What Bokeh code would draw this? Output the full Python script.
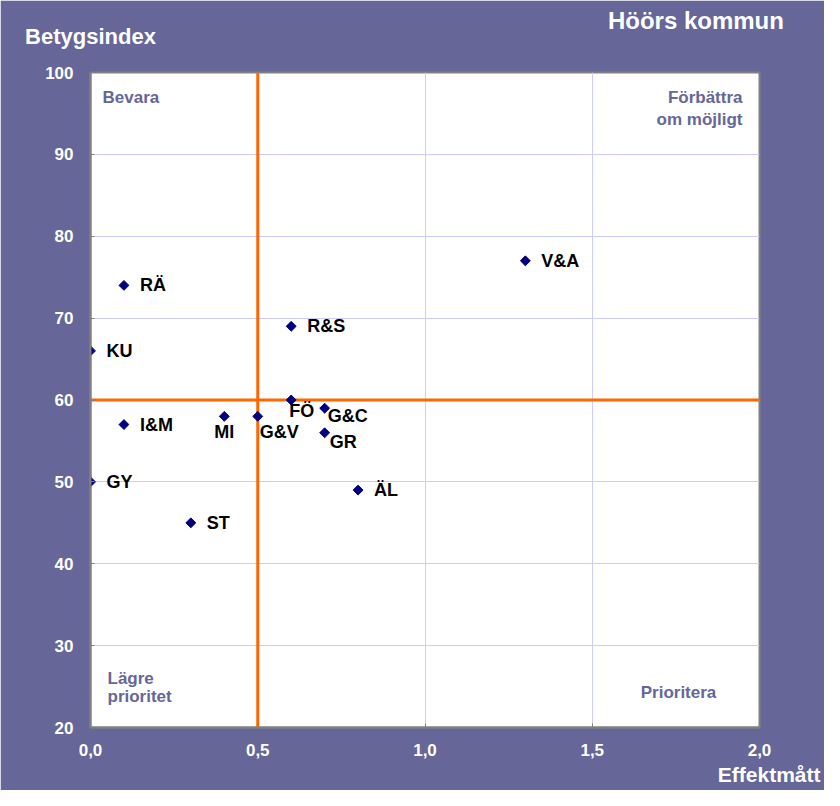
from bokeh.plotting import figure
from bokeh.models import (ColumnDataSource, Span, Label, FixedTicker, CustomJSTickFormatter,
                          LinearAxis, Title)
from bokeh.core.properties import value, field
from bokeh.embed import file_html
from bokeh.resources import INLINE
import math

# ---- data ----
codes = ["V&A", "RÄ", "R&S", "KU", "FÖ", "G&C", "MI", "G&V", "I&M", "GR", "GY", "ÄL", "ST"]
effektmatt = [1.3, 0.1, 0.6, 0.0, 0.6, 0.7, 0.4, 0.5, 0.1, 0.7, 0.0, 0.8, 0.3]
betygsindex = [77, 74, 69, 66, 60, 59, 58, 58, 57, 56, 50, 49, 45]
x_ticks = [0.0, 0.5, 1.0, 1.5, 2.0]
y_ticks = [20, 30, 40, 50, 60, 70, 80, 90, 100]
x_threshold = 0.5
y_threshold = 60
chart_title = "Höörs kommun"
y_title = "Betygsindex"
x_title = "Effektmått"

# ---- label placement (style) ----
label_place = {
    "MI": (0, 16, "center"),
    "G&V": (2, 16, "left"),
    "FÖ": (-2, 11, "left"),
    "G&C": (3, 8, "left"),
    "GR": (5, 9, "left"),
}
dx, dy, al = [], [], []
for c in codes:
    ox, oy, a = label_place.get(c, (16, 0, "left"))
    dx.append(ox); dy.append(oy); al.append(a)

src = ColumnDataSource(dict(x=effektmatt, y=betygsindex, code=codes, dx=dx, dy=dy, align=al))

PURPLE = "#666699"
FONT = "Liberation Sans"

p = figure(width=824, height=790, x_range=(0, 2), y_range=(20, 100), title=None,
           output_backend="svg", toolbar_location=None,
           min_border_left=90, min_border_right=65, min_border_top=72, min_border_bottom=63,
           background_fill_color="white", border_fill_color=PURPLE,
           outline_line_color="#808080", outline_line_width=2)

p.xaxis.ticker = FixedTicker(ticks=x_ticks)
p.yaxis.ticker = FixedTicker(ticks=y_ticks)
p.xaxis.formatter = CustomJSTickFormatter(code="return tick.toFixed(1).replace('.', ',');")
for ax in (p.xaxis, p.yaxis):
    ax.axis_line_color = "#808080"
    ax.axis_line_width = 2
    ax.major_tick_line_color = "#808080"
    ax.major_tick_in = 4
    ax.major_tick_out = 0
    ax.minor_tick_line_color = None
    ax.major_label_text_color = "white"
    ax.major_label_text_font = FONT
    ax.major_label_text_font_style = "bold"
    ax.major_label_text_font_size = "17px"
p.yaxis.major_label_standoff = 17
p.xaxis.major_label_standoff = 16

p.grid.grid_line_color = "#ccccff"
p.grid.grid_line_width = 1

p.add_layout(Span(location=x_threshold, dimension="height", line_color="#ff6600", line_width=3, level="underlay"))
p.add_layout(Span(location=y_threshold, dimension="width", line_color="#ff6600", line_width=3, level="underlay"))

p.scatter(x="x", y="y", source=src, marker="square", size=7, angle=math.pi / 4,
          fill_color="#000080", line_color="#000080")

p.text(x="x", y="y", text="code", source=src, x_offset=field("dx"), y_offset=field("dy"),
       text_align=field("align"), text_baseline="middle",
       text_font=value(FONT), text_font_style="bold", text_font_size="18px", text_color="black")

def lab(text, x, y, align):
    p.add_layout(Label(x=x, y=y, x_units="screen", y_units="screen", text=text,
                       text_align=align, text_baseline="middle", text_color=PURPLE,
                       text_font=FONT, text_font_style="bold", text_font_size="17px"))

# quadrant annotations
lab("Bevara", 12, 630, "left")
lab("Förbättra", 652, 630, "right")
lab("om möjligt", 652, 608, "right")
lab("Lägre", 17, 49, "left")
lab("prioritet", 17, 31, "left")
lab("Prioritera", 588, 35, "center")

# texts above the plot area, carried by label-only axes
def text_axis(text, at, standoff, size):
    ax = LinearAxis(ticker=FixedTicker(ticks=[at]),
                    formatter=CustomJSTickFormatter(args=dict(t=text), code="return t;"),
                    axis_line_color=None, major_tick_line_color=None, minor_tick_line_color=None,
                    major_tick_in=0, major_tick_out=0, major_label_standoff=standoff,
                    major_label_text_color="white", major_label_text_font=FONT,
                    major_label_text_font_style="bold", major_label_text_font_size=size)
    p.add_layout(ax, "above")

text_axis(y_title, 0.0, 24, "22px")
text_axis(chart_title, 1.81, -13, "24px")

p.add_layout(Title(text=x_title, align="right", offset=-61, standoff=4, vertical_align="bottom",
                   text_color="white", text_font=FONT, text_font_style="bold",
                   text_font_size="21px"), "below")

open("out.html", "w").write(file_html(p, INLINE))
